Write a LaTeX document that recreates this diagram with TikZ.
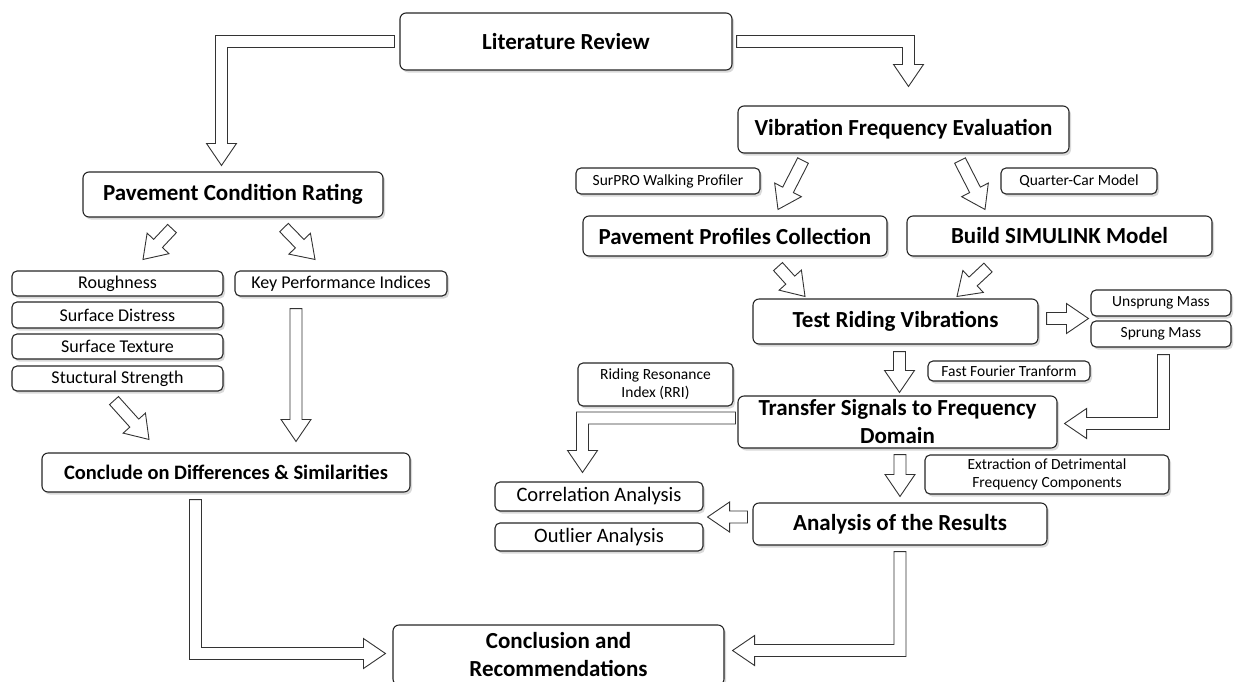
\documentclass[tikz,border=0pt]{standalone}
\usepackage{fontspec}
\setmainfont{Carlito}
\usetikzlibrary{calc,shadows}
\def\bkw{6pt}
\def\bkh{15pt}
\def\bkl{22pt}
% straight block arrow
\newcommand\blkS[2]{%
 \coordinate (bk-a) at (#1);
 \coordinate (bk-b) at (#2);
 \coordinate (bk-p) at ($(bk-b)!\bkl!(bk-a)$);
 \draw[blk] ($(bk-a)!\bkw!90:(bk-b)$) -- ($(bk-p)!\bkw!-90:(bk-a)$) -- ($(bk-p)!\bkh!-90:(bk-a)$) -- (bk-b) -- ($(bk-p)!\bkh!90:(bk-a)$) -- ($(bk-p)!\bkw!90:(bk-a)$) -- ($(bk-a)!\bkw!-90:(bk-b)$) -- cycle;}
\newcommand\blkBend{%
 \coordinate (bk-p) at ($(bk-b)!\bkl!(bk-c)$);
 \coordinate (bk-n1) at ($(bk-c)!\bkw!-90:(bk-a)$);
 \coordinate (bk-m1) at ($(bk-c)!\bkw!90:(bk-a)$);
 \coordinate (bk-n2) at ($(bk-c)!\bkw!90:(bk-b)$);
 \coordinate (bk-m2) at ($(bk-c)!\bkw!-90:(bk-b)$);
 \draw[blk] ($(bk-a)!\bkw!90:(bk-c)$) -- ($(bk-n1)+(bk-n2)-(bk-c)$) -- ($(bk-p)!\bkw!-90:(bk-c)$) -- ($(bk-p)!\bkh!-90:(bk-c)$) -- (bk-b) -- ($(bk-p)!\bkh!90:(bk-c)$) -- ($(bk-p)!\bkw!90:(bk-c)$) -- ($(bk-m1)+(bk-m2)-(bk-c)$) -- ($(bk-a)!\bkw!-90:(bk-c)$) -- cycle;}
% horizontal then vertical
\newcommand\blkHV[2]{%
 \coordinate (bk-a) at (#1);
 \coordinate (bk-b) at (#2);
 \coordinate (bk-c) at (bk-b |- bk-a);
 \blkBend}
% vertical then horizontal
\newcommand\blkVH[2]{%
 \coordinate (bk-a) at (#1);
 \coordinate (bk-b) at (#2);
 \coordinate (bk-c) at (bk-a |- bk-b);
 \blkBend}
\begin{document}
\begin{tikzpicture}[x=1pt,y=-1pt,
 box/.style={draw=black!85, line width=1.1pt, fill=white, rounded corners=6pt, inner sep=0pt, align=center,
   drop shadow={shadow xshift=2pt, shadow yshift=-2.5pt, opacity=0.3}},
 big/.style={box, font=\fontsize{23}{28}\selectfont\bfseries},
 bigs/.style={box, font=\fontsize{20.5}{24}\selectfont\bfseries},
 mid/.style={box, font=\fontsize{20.5}{24}\selectfont, rounded corners=5pt},
 item/.style={box, font=\fontsize{18}{21}\selectfont, rounded corners=5pt},
 lab/.style={box, font=\fontsize{15.5}{18}\selectfont, rounded corners=5pt},
 blk/.style={draw=black!80, line width=0.9pt, fill=white, line join=miter}]
\useasboundingbox (0,0) rectangle (1236,681);
\clip (0,0) rectangle (1236,681);
% nodes
\node[big, minimum width=332pt, minimum height=57pt] (lr) at (566,41.5) {Literature Review};
\node[big, minimum width=331pt, minimum height=47pt] (vfe) at (903.5,129.5) {Vibration Frequency Evaluation};
\node[big, minimum width=300pt, minimum height=45pt] (pcr) at (233,194.5) {Pavement Condition Rating};
\node[lab, minimum width=184pt, minimum height=26pt] (surpro) at (668,181) {SurPRO Walking Profiler};
\node[lab, minimum width=156pt, minimum height=26pt] (qcm) at (1079,181) {Quarter-Car Model};
\node[big, minimum width=304pt, minimum height=40pt] (ppc) at (735,236) {Pavement Profiles Collection};
\node[big, minimum width=305pt, minimum height=40pt] (bsm) at (1059.5,236) {Build SIMULINK Model};
\node[big, minimum width=285pt, minimum height=45pt] (trv) at (895.5,321.5) {Test Riding Vibrations};
\node[lab, minimum width=140pt, minimum height=26pt] (unsprung) at (1161,303) {Unsprung Mass};
\node[lab, minimum width=140pt, minimum height=26pt] (sprung) at (1161,334) {Sprung Mass};
\node[lab, minimum width=162pt, minimum height=20pt] (fft) at (1009,371) {Fast Fourier Tranform};
\node[lab, minimum width=155pt, minimum height=43pt] (rri) at (655.5,384.5) {Riding Resonance\\Index (RRI)};
\node[big, minimum width=319pt, minimum height=52pt] (tsfd) at (897.5,422) {Transfer Signals to Frequency\\Domain};
\node[lab, minimum width=244pt, minimum height=39pt] (extr) at (1047,474.5) {Extraction of Detrimental\\Frequency Components};
\node[big, minimum width=294pt, minimum height=42pt] (ana) at (900,524) {Analysis of the Results};
\node[mid, minimum width=208pt, minimum height=29pt] (corr) at (599,496.5) {Correlation Analysis};
\node[mid, minimum width=208pt, minimum height=28pt] (outl) at (599,537) {Outlier Analysis};
\node[big, minimum width=331pt, minimum height=60pt] (cr) at (558.5,655) {Conclusion and\\Recommendations};
\node[item, minimum width=211pt, minimum height=25pt] (rough) at (117.5,283.5) {Roughness};
\node[item, minimum width=211pt, minimum height=26pt] (sdist) at (117.5,315) {Surface Distress};
\node[item, minimum width=211pt, minimum height=25pt] (stext) at (117.5,346.5) {Surface Texture};
\node[item, minimum width=211pt, minimum height=25pt] (sstr) at (117.5,378.5) {Stuctural Strength};
\node[item, minimum width=212pt, minimum height=25pt] (kpi) at (341,283.5) {Key Performance Indices};
\node[bigs, minimum width=368pt, minimum height=39pt] (cds) at (226,472.5) {Conclude on Differences \& Similarities};
% connectors
\blkHV{$(lr.west)+(-5,0)$}{$(pcr.north)+(-11.5,-6)$}
\blkHV{$(lr.east)+(4,0)$}{$(vfe.north)+(5,-19)$}
\blkS{$(vfe.south)+(-100.5,7)$}{$(ppc.north)+(43,-6)$}
\blkS{$(vfe.south)+(56.5,7)$}{$(bsm.north)+(-74.5,-6)$}
\blkS{$(pcr.south)+(-61,11)$}{$(rough.north)+(25.5,-11)$}
\blkS{$(pcr.south)+(51,10)$}{$(kpi.north)+(-26,-11)$}
\blkS{$(kpi.south)+(-45,12)$}{$(cds.north)+(70,-11)$}
\blkS{$(sstr.south)+(-3.5,9)$}{$(cds.north)+(-77,-13)$}
\blkVH{$(cds.south)+(-30.5,7)$}{$(cr.west)+(-7,-1.5)$}
\blkS{$(ppc.south)+(43,10)$}{$(trv.north)+(-90.5,-2)$}
\blkS{$(bsm.south)+(-71.5,11)$}{$(trv.north)+(61.5,-2)$}
\blkS{$(trv.east)+(8,-3)$}{$(unsprung.south west)!0.5!(sprung.north west)+(-2,0)$}
\blkS{$(trv.south)+(4,7)$}{$(tsfd.north)+(2,-3)$}
\blkVH{$(sprung.south)+(2.5,7)$}{$(tsfd.east)+(7,1.5)$}
\blkHV{$(tsfd.west)+(-2,-4)$}{$(corr.north)+(-16.5,-9)$}
\blkS{$(tsfd.south)+(2.5,6)$}{$(ana.north)+(0,-6)$}
\blkS{$(ana.west)+(-5,-7)$}{$(corr.south east)!0.5!(outl.north east)+(4,0)$}
\blkVH{$(ana.south)+(0,6)$}{$(cr.east)+(8,-4.5)$}
\end{tikzpicture}
\end{document}
